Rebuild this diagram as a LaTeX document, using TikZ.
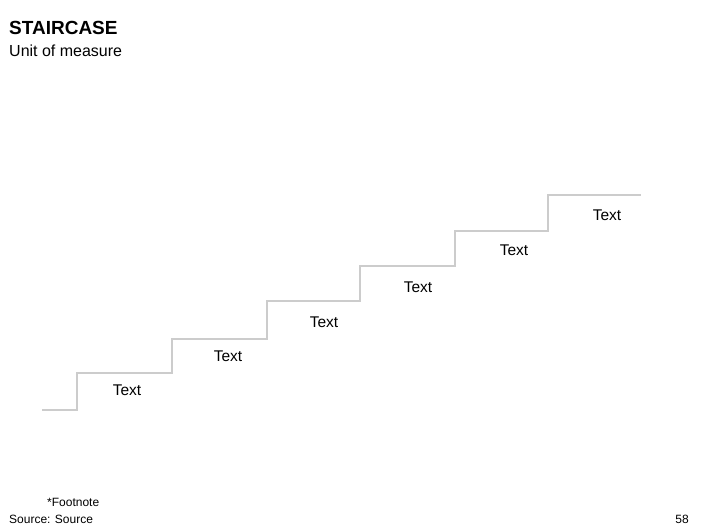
\documentclass[tikz,border=0pt]{standalone}
\usepackage{fontspec}
\setmainfont{Liberation Sans}
\usetikzlibrary{positioning}

\begin{document}
\begin{tikzpicture}[x=1pt,y=-1pt]
          \useasboundingbox[fill=white] (0,0) rectangle (706,529);
          \tikzset{stair/.style={draw=black!20, line width=1.6pt},
                   lbl/.style={inner sep=0pt, font=\fontsize{15.5}{17}\selectfont},
                   note/.style={inner sep=0pt, anchor=base west, font=\fontsize{12}{14}\selectfont}}
          \draw node[inner sep=0pt, anchor=base west, font=\fontsize{19}{21}\selectfont\bfseries] (title) at (9,35) {STAIRCASE};
          \draw node[inner sep=0pt, anchor=base west, font=\fontsize{16}{18}\selectfont] (unit) at (9,57) {Unit of measure};

          \coordinate (s0) at (42,410);
          \coordinate (s1) at (77,410);
          \coordinate (s2) at (172,373);
          \coordinate (s3) at (267,339);
          \coordinate (s4) at (360,301);
          \coordinate (s5) at (455,266);
          \coordinate (s6) at (548,231);
          \coordinate (s7) at (641,195);
          \draw[stair] (s0) -- (s1) |- (s2) |- (s3) |- (s4) |- (s5) |- (s6) |- (s7);

          \draw node[lbl] (t1) at (127,390) {Text};
          \draw node[lbl] (t2) at (228,356) {Text};
          \draw node[lbl] (t3) at (324,322) {Text};
          \draw node[lbl] (t4) at (418,287) {Text};
          \draw node[lbl] (t5) at (514,250) {Text};
          \draw node[lbl] (t6) at (607,215) {Text};

          \draw node[note] (foot) at (47,506) {*Footnote};
          \draw node[note] (src) at (9,523) {Source: Source};
          \draw node[note, anchor=base east] (page) at (689,523) {58};
      \end{tikzpicture}
\end{document}
